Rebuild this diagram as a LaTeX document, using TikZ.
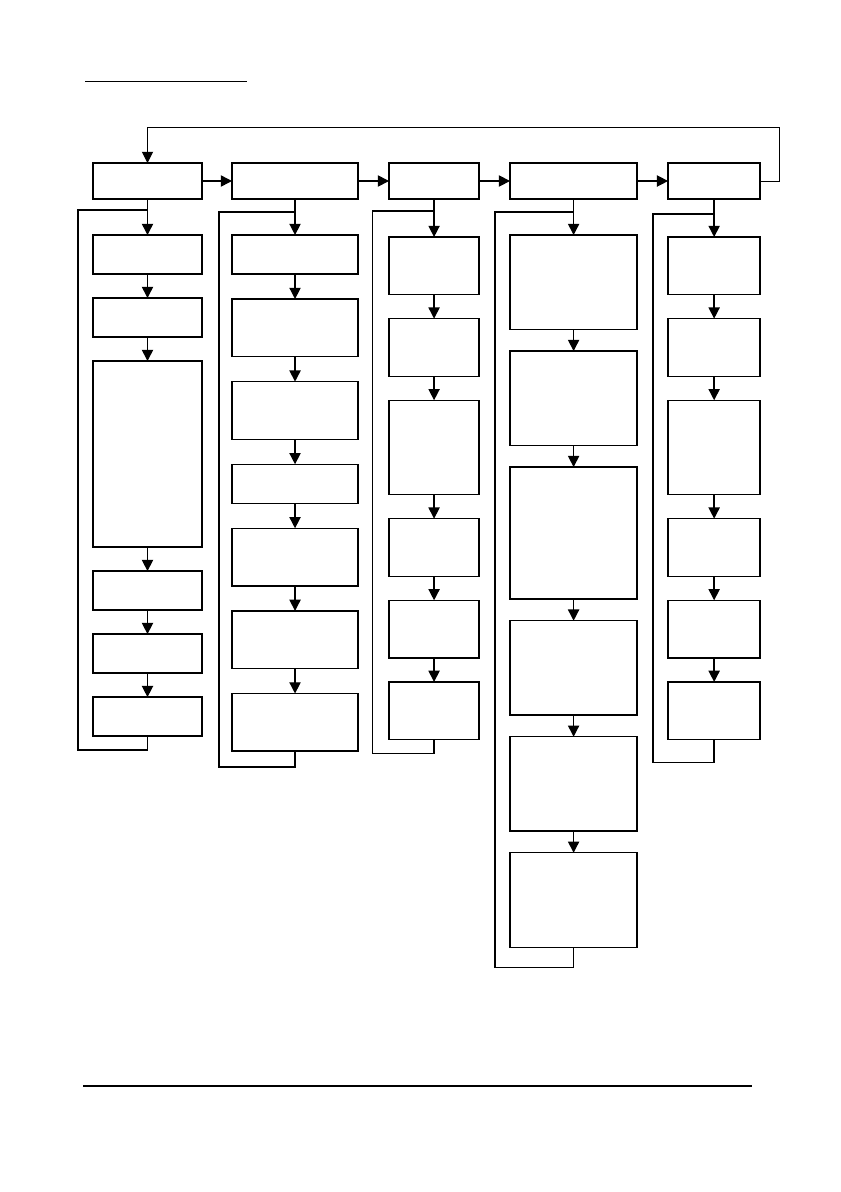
\documentclass[tikz,border=0pt]{standalone}
\usepackage{xcolor}
\usepackage{tikz}
\usetikzlibrary{
    arrows.meta,
    positioning
}
\tikzset{
    % Base style for all boxes
    stepbox/.style={
        rectangle,
        draw=black,
        line width=1pt,
        fill=white,
        inner sep=0pt,
        outer sep=0pt,
        minimum height=0.975cm,
    },
    % Widths, one per column
    col one/.style={stepbox, minimum width=2.725cm},
    col two/.style={stepbox, minimum width=3.15cm},
    col three/.style={stepbox, minimum width=2.25cm},
    col four/.style={stepbox, minimum width=3.175cm},
    col five/.style={stepbox, minimum width=2.3cm},
    % Heights
    box head/.style={minimum height=0.9cm},
    box mid/.style={minimum height=1.44cm},
    box tall/.style={minimum height=2.36cm},
    % Arrow style - straight, filled triangle tip
    arrow/.style={
        -{Triangle[length=8pt, width=8pt]},
        line width=1pt,
    },
    % Return line of each column
    back line/.style={
        line width=1pt,
    },
    % Long return arrow over the top
    return arrow/.style={
        arrow,
        line width=0.7pt,
    },
}

\begin{document}
\begin{tikzpicture}[x=0.025cm, y=-0.025cm]
    \useasboundingbox (0,0) rectangle (841,1192);

    % page rules
    \draw [line width=0.6pt] (85,81) -- (247,81);
    \draw [line width=1.7pt] (83,1086) -- (752,1086);

    % main row
    \node (main1) [col one, box head] at (147.5,181) {};
    \node (main2) [col two, box head, right=0.75cm of main1] {};
    \node (main3) [col three, box head, right=0.775cm of main2] {};
    \node (main4) [col four, box head, right=0.775cm of main3] {};
    \node (main5) [col five, box head, right=0.775cm of main4] {};

    \draw [arrow] (main1) -- (main2);
    \draw [arrow] (main2) -- (main3);
    \draw [arrow] (main3) -- (main4);
    \draw [arrow] (main4) -- (main5);
    \draw [return arrow] (main5.east) -- ++(19,0) -- ++(0,-54) -| (main1.north);

    % column 1
    \node (s1a) [col one, below=0.9cm of main1] {};
    \node (s1b) [col one, below=0.6cm of s1a] {};
    \node (s1c) [col one, minimum height=4.65cm, below=0.6cm of s1b] {};
    \node (s1d) [col one, below=0.6cm of s1c] {};
    \node (s1e) [col one, below=0.6cm of s1d] {};
    \node (s1f) [col one, below=0.6cm of s1e] {};

    \draw [arrow] (main1) -- (s1a);
    \draw [arrow] (s1a) -- (s1b);
    \draw [arrow] (s1b) -- (s1c);
    \draw [arrow] (s1c) -- (s1d);
    \draw [arrow] (s1d) -- (s1e);
    \draw [arrow] (s1e) -- (s1f);
    \draw [back line] (s1f.south) -- ++(0,14) -| ([xshift=-0.375cm]s1a.west) |- ([yshift=-0.275cm]main1.south);

    % column 2
    \node (s2a) [col two, below=0.9cm of main2] {};
    \node (s2b) [col two, box mid, below=0.625cm of s2a] {};
    \node (s2c) [col two, box mid, below=0.625cm of s2b] {};
    \node (s2d) [col two, below=0.625cm of s2c] {};
    \node (s2e) [col two, box mid, below=0.625cm of s2d] {};
    \node (s2f) [col two, box mid, below=0.625cm of s2e] {};
    \node (s2g) [col two, box mid, below=0.625cm of s2f] {};

    \draw [arrow] (main2) -- (s2a);
    \draw [arrow] (s2a) -- (s2b);
    \draw [arrow] (s2b) -- (s2c);
    \draw [arrow] (s2c) -- (s2d);
    \draw [arrow] (s2d) -- (s2e);
    \draw [arrow] (s2e) -- (s2f);
    \draw [arrow] (s2f) -- (s2g);
    \draw [back line] (s2g.south) -- ++(0,16) -| ([xshift=-0.325cm]s2a.west) |- ([yshift=-0.325cm]main2.south);

    % column 3
    \node (s3a) [col three, box mid, below=0.95cm of main3] {};
    \node (s3b) [col three, box mid, below=0.6cm of s3a] {};
    \node (s3c) [col three, box tall, below=0.6cm of s3b] {};
    \node (s3d) [col three, box mid, below=0.6cm of s3c] {};
    \node (s3e) [col three, box mid, below=0.6cm of s3d] {};
    \node (s3f) [col three, box mid, below=0.6cm of s3e] {};

    \draw [arrow] (main3) -- (s3a);
    \draw [arrow] (s3a) -- (s3b);
    \draw [arrow] (s3b) -- (s3c);
    \draw [arrow] (s3c) -- (s3d);
    \draw [arrow] (s3d) -- (s3e);
    \draw [arrow] (s3e) -- (s3f);
    \draw [back line] (s3f.south) -- ++(0,14) -| ([xshift=-0.41cm]s3a.west) |- ([yshift=-0.3cm]main3.south);

    % column 4
    \node (s4a) [col four, box tall, below=0.9cm of main4] {};
    \node (s4b) [col four, box tall, below=0.54cm of s4a] {};
    \node (s4c) [col four, minimum height=3.3cm, below=0.54cm of s4b] {};
    \node (s4d) [col four, box tall, below=0.54cm of s4c] {};
    \node (s4e) [col four, box tall, below=0.54cm of s4d] {};
    \node (s4f) [col four, box tall, below=0.54cm of s4e] {};

    \draw [arrow] (main4) -- (s4a);
    \draw [arrow] (s4a) -- (s4b);
    \draw [arrow] (s4b) -- (s4c);
    \draw [arrow] (s4c) -- (s4d);
    \draw [arrow] (s4d) -- (s4e);
    \draw [arrow] (s4e) -- (s4f);
    \draw [back line] (s4f.south) -- ++(0,20) -| ([xshift=-0.375cm]s4a.west) |- ([yshift=-0.325cm]main4.south);

    % column 5
    \node (s5a) [col five, box mid, below=0.95cm of main5] {};
    \node (s5b) [col five, box mid, below=0.6cm of s5a] {};
    \node (s5c) [col five, box tall, below=0.6cm of s5b] {};
    \node (s5d) [col five, box mid, below=0.6cm of s5c] {};
    \node (s5e) [col five, box mid, below=0.6cm of s5d] {};
    \node (s5f) [col five, box mid, below=0.6cm of s5e] {};

    \draw [arrow] (main5) -- (s5a);
    \draw [arrow] (s5a) -- (s5b);
    \draw [arrow] (s5b) -- (s5c);
    \draw [arrow] (s5c) -- (s5d);
    \draw [arrow] (s5d) -- (s5e);
    \draw [arrow] (s5e) -- (s5f);
    \draw [back line] (s5f.south) -- ++(0,23) -| ([xshift=-0.375cm]s5a.west) |- ([yshift=-0.375cm]main5.south);
\end{tikzpicture}
\end{document}
